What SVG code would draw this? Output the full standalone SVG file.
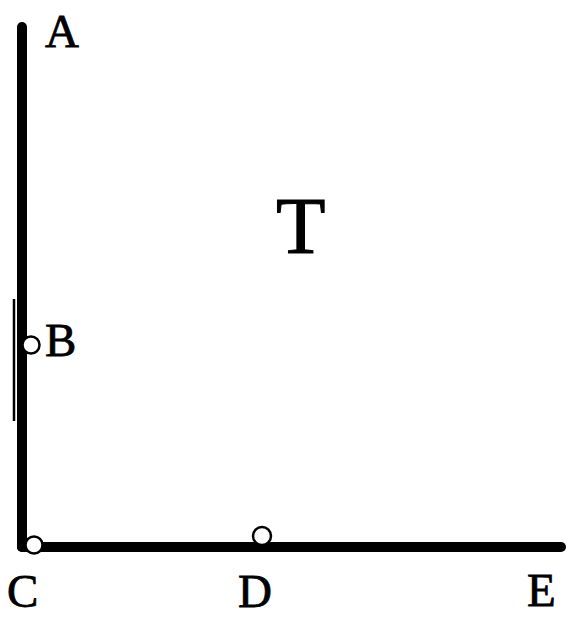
<svg xmlns="http://www.w3.org/2000/svg" width="567" height="619" viewBox="0 0 567 619">
<style>
.lbl{font-family:"Liberation Serif","Times New Roman",serif;font-size:47px;fill:#000;stroke:#000;stroke-width:0.8}
.big{font-size:81px;stroke-width:1}
.pt{fill:#fff;stroke:#000;stroke-width:2.5}
.edge{stroke:#000;stroke-width:10;stroke-linecap:round;fill:none}
</style>
<rect width="567" height="619" fill="#fff"/>
<g id="connectors">
<line class="edge" x1="22" y1="27" x2="22" y2="547"/>
<line class="edge" x1="22" y1="547" x2="561" y2="547"/>
<line x1="14" y1="299" x2="14" y2="421" stroke="#000" stroke-width="2.5"/>
</g>
<g id="B"><circle class="pt" cx="31" cy="345" r="8.5"/><text class="lbl" x="45" y="356">B</text></g>
<g id="C"><circle class="pt" cx="34" cy="545" r="8.5"/><text class="lbl" x="7" y="607">C</text></g>
<g id="D"><circle class="pt" cx="262" cy="536" r="9"/><text class="lbl" x="238" y="607">D</text></g>
<g id="A"><text class="lbl" x="45" y="47">A</text></g>
<g id="E"><text class="lbl" x="527" y="606">E</text></g>
<g id="T"><text class="lbl big" x="276" y="253">T</text></g>
</svg>
